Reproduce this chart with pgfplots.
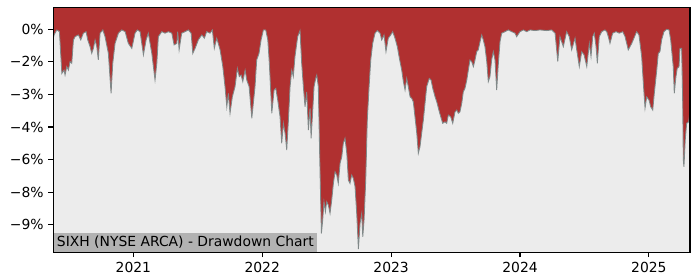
\documentclass[border=0pt]{standalone}
\usepackage{fontspec}
\setmainfont{DejaVu Sans}
\usepackage{pgfplots}
\pgfplotsset{compat=1.18}
\usepackage{pgfplotstable}
\definecolor{ddred}{RGB}{176,48,48}
\definecolor{bgray}{RGB}{236,236,236}
\definecolor{edge}{RGB}{128,136,136}
\definecolor{boxgray}{RGB}{178,178,178}
\pgfplotstableread{
x y
2020.379 -0.40
2020.385 -0.26
2020.406 -0.03
2020.426 -0.11
2020.445 -2.03
2020.462 -1.88
2020.470 -2.11
2020.483 -1.72
2020.496 -1.88
2020.509 -1.49
2020.522 -1.57
2020.535 -0.49
2020.548 -0.34
2020.573 -0.26
2020.592 -0.49
2020.612 -0.18
2020.633 -0.11
2020.646 -0.49
2020.664 -0.80
2020.677 -1.11
2020.690 -0.88
2020.703 -0.49
2020.716 -0.80
2020.728 -1.41
2020.742 -0.18
2020.763 -0.03
2020.780 -0.34
2020.806 -1.11
2020.827 -2.95
2020.840 -1.57
2020.858 -0.65
2020.884 -0.18
2020.910 -0.03
2020.936 -0.11
2020.961 -0.65
2020.988 -0.88
2021.013 -0.18
2021.031 -0.03
2021.052 -0.11
2021.078 -1.18
2021.099 -0.49
2021.116 -0.18
2021.143 -1.11
2021.168 -2.34
2021.182 -1.57
2021.194 -0.34
2021.220 -0.11
2021.246 -0.18
2021.272 -0.11
2021.298 -0.18
2021.316 -0.72
2021.337 -0.65
2021.344 -0.11
2021.355 -0.95
2021.375 -0.18
2021.401 -0.11
2021.427 -0.03
2021.448 -0.18
2021.461 -1.11
2021.479 -0.88
2021.504 -0.49
2021.531 -0.26
2021.551 -0.41
2021.569 -0.11
2021.595 -0.18
2021.613 -0.03
2021.628 -0.88
2021.647 -0.41
2021.673 -0.95
2021.694 -1.72
2021.711 -2.64
2021.725 -3.57
2021.737 -2.95
2021.750 -3.87
2021.768 -3.11
2021.789 -2.64
2021.807 -1.80
2021.822 -2.18
2021.836 -2.11
2021.849 -2.41
2021.867 -1.88
2021.880 -2.34
2021.898 -2.64
2021.919 -4.10
2021.944 -2.64
2021.957 -1.41
2021.975 -1.11
2021.991 -0.49
2022.009 -0.03
2022.027 -0.03
2022.043 -0.49
2022.055 -1.57
2022.074 -3.87
2022.092 -2.80
2022.105 -2.72
2022.120 -3.26
2022.138 -4.03
2022.151 -5.25
2022.164 -4.33
2022.177 -4.79
2022.190 -5.56
2022.203 -4.18
2022.216 -2.64
2022.229 -1.88
2022.241 -2.18
2022.254 -1.26
2022.275 -0.34
2022.293 -0.06
2022.306 -1.57
2022.319 -2.64
2022.332 -3.57
2022.345 -2.88
2022.358 -4.64
2022.371 -3.64
2022.379 -5.02
2022.389 -4.03
2022.402 -2.64
2022.415 -2.26
2022.423 -2.11
2022.435 -2.64
2022.448 -6.48
2022.459 -9.40
2022.469 -8.79
2022.479 -7.94
2022.490 -8.40
2022.500 -7.94
2022.513 -8.10
2022.526 -8.48
2022.539 -7.87
2022.552 -7.10
2022.565 -6.56
2022.578 -6.71
2022.590 -7.10
2022.604 -6.17
2022.617 -5.87
2022.629 -5.25
2022.642 -5.02
2022.656 -5.71
2022.668 -6.94
2022.681 -7.10
2022.694 -6.71
2022.707 -6.87
2022.720 -7.25
2022.733 -8.48
2022.746 -10.12
2022.759 -8.94
2022.772 -8.48
2022.780 -9.56
2022.790 -8.79
2022.803 -6.94
2022.815 -4.18
2022.829 -2.64
2022.842 -1.41
2022.857 -0.65
2022.875 -0.18
2022.893 -0.06
2022.914 -0.18
2022.927 -0.49
2022.945 -0.26
2022.960 -1.03
2022.978 -0.41
2022.997 -0.26
2023.012 -0.11
2023.030 -0.41
2023.048 -0.80
2023.064 -1.34
2023.082 -1.88
2023.095 -2.41
2023.108 -2.80
2023.121 -2.26
2023.133 -2.64
2023.147 -3.11
2023.160 -3.18
2023.172 -3.34
2023.185 -4.03
2023.199 -4.79
2023.211 -5.71
2023.224 -5.41
2023.237 -4.79
2023.250 -4.18
2023.263 -3.41
2023.276 -2.64
2023.296 -2.26
2023.310 -2.34
2023.323 -2.72
2023.341 -3.11
2023.354 -3.34
2023.374 -3.80
2023.385 -4.03
2023.400 -4.33
2023.418 -4.26
2023.431 -4.33
2023.444 -3.95
2023.462 -4.03
2023.478 -4.33
2023.496 -3.80
2023.509 -3.72
2023.521 -3.87
2023.534 -3.80
2023.548 -3.41
2023.560 -2.88
2023.573 -2.72
2023.587 -2.34
2023.599 -1.88
2023.612 -1.41
2023.625 -1.49
2023.638 -1.72
2023.651 -1.41
2023.664 -1.03
2023.676 -0.95
2023.690 -0.57
2023.703 -0.26
2023.715 -0.49
2023.728 -0.80
2023.742 -1.49
2023.754 -2.41
2023.767 -2.18
2023.780 -1.41
2023.793 -1.03
2023.806 -1.41
2023.819 -2.80
2023.832 -1.57
2023.845 -0.57
2023.858 -0.18
2023.884 -0.11
2023.909 -0.03
2023.936 -0.11
2023.961 -0.18
2023.974 -0.34
2024.000 -0.11
2024.026 -0.03
2024.052 -0.11
2024.078 -0.03
2024.116 -0.06
2024.155 -0.03
2024.207 -0.06
2024.246 -0.03
2024.272 -0.18
2024.293 -1.49
2024.310 -0.34
2024.336 -0.80
2024.362 -0.11
2024.382 -0.34
2024.401 -0.95
2024.427 -0.41
2024.440 -0.95
2024.460 -1.72
2024.479 -1.03
2024.497 -1.18
2024.518 -1.72
2024.538 -0.65
2024.551 -1.26
2024.564 -0.34
2024.576 -0.18
2024.590 -0.80
2024.600 -1.57
2024.615 -0.34
2024.634 -0.11
2024.659 -0.03
2024.673 -0.11
2024.685 -0.34
2024.698 -0.65
2024.719 -0.18
2024.745 -0.11
2024.770 -0.18
2024.797 -0.11
2024.815 -0.34
2024.840 -0.95
2024.867 -0.65
2024.884 -0.41
2024.905 -0.11
2024.923 -0.26
2024.944 -1.26
2024.957 -2.49
2024.970 -3.64
2024.983 -3.11
2025.001 -3.26
2025.014 -3.57
2025.030 -3.72
2025.042 -2.95
2025.061 -1.88
2025.073 -1.11
2025.086 -1.03
2025.099 -0.49
2025.117 -0.11
2025.138 0.00
2025.156 -0.03
2025.169 -0.49
2025.179 -1.11
2025.189 -1.72
2025.197 -2.95
2025.210 -2.18
2025.220 -1.80
2025.234 -1.72
2025.241 -0.88
2025.254 -0.88
2025.262 -3.26
2025.267 -6.02
2025.272 -6.33
2025.282 -5.10
2025.293 -4.33
2025.309 -4.26
2025.319 -3.72
}\dd
\begin{document}
\begin{tikzpicture}
\useasboundingbox (0,0) rectangle (504bp,201.6bp);
\begin{axis}[
  at={(38.4bp,19.9bp)}, anchor=south west,
  scale only axis, width=458.4bp, height=176.4bp,
  xmin=2020.379, xmax=2025.319, ymin=-10.27, ymax=1.01,
  axis background/.style={fill=ddred},
  xtick={2021,2022,2023,2024,2025},
  xticklabels={2021,2022,2023,2024,2025},
  ytick={0,-1.5,-3,-4.5,-6,-7.5,-9},
  yticklabels={0\%,−2\%,−3\%,−4\%,−6\%,−8\%,−9\%},
  xtick pos=lower, ytick pos=left,
  tick align=outside, major tick length=3.5bp,
  tick style={black, line width=0.8bp},
  axis line style={line width=0.8bp},
  ticklabel style={font=\fontsize{10bp}{12bp}\selectfont},
  axis on top,
]
\addplot[fill=bgray, draw=none] table {\dd} -- (axis cs:2025.319,-10.27) -- (axis cs:2020.379,-10.27) -- cycle;
\addplot[edge, line width=0.6bp] table {\dd};
\node[anchor=south west, fill=boxgray, inner xsep=2.4bp, inner ysep=1.5bp, text height=8bp, text depth=2.5bp, font=\fontsize{10bp}{12bp}\selectfont] at (rel axis cs:0,0) {SIXH (NYSE ARCA) - Drawdown Chart};
\end{axis}
\end{tikzpicture}
\end{document}
